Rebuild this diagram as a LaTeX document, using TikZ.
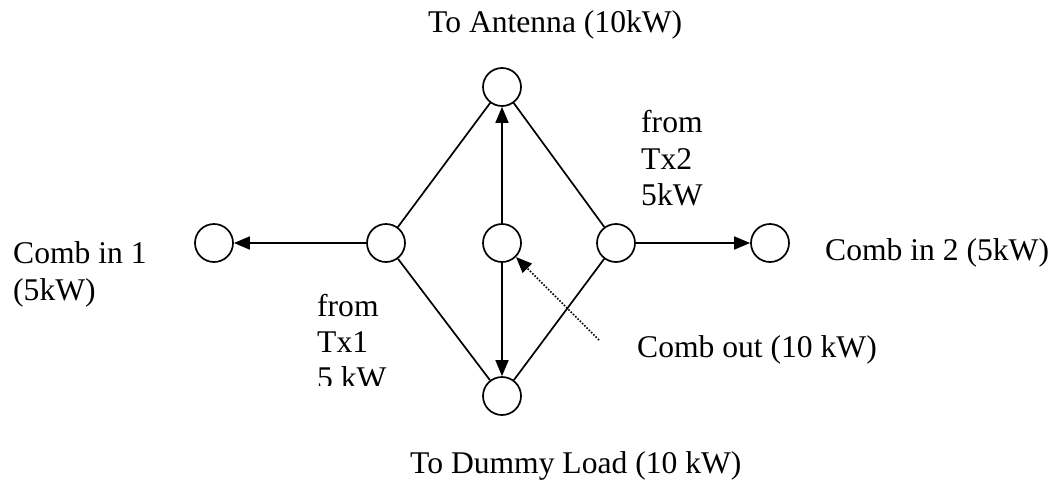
\documentclass[tikz,border=0pt]{standalone}
\usepackage{fontspec}
\setmainfont{Liberation Serif}
\usetikzlibrary{arrows.meta}
\tikzset{
  port/.style={circle,draw,line width=1.7pt,minimum size=38pt,inner sep=0pt},
  wire/.style={line width=1.7pt},
  arr/.style={wire,-{Triangle[length=16pt,width=13pt]}},
  darr/.style={line width=1.6pt,dash pattern=on 1.6pt off 1.6pt,-{Triangle[length=16pt,width=13pt]}},
  lbl/.style={anchor=base west,inner sep=0pt,font=\fontsize{31.6}{36}\selectfont}
}
\begin{document}
\begin{tikzpicture}[x=1pt,y=-1pt]
\useasboundingbox (0,0) rectangle (1057,482);
% ports
\node[port] (c1) at (214,243) {};
\node[port] (L) at (386,243) {};
\node[port] (T) at (502,87) {};
\node[port] (M) at (502,243) {};
\node[port] (B) at (502,396) {};
\node[port] (R) at (616,243) {};
\node[port] (c2) at (770,243) {};
% diamond
\draw[wire] (L) -- (T);
\draw[wire] (T) -- (R);
\draw[wire] (L) -- (B);
\draw[wire] (B) -- (R);
% arrows
\draw[arr] (L) -- (c1);
\draw[arr] (R) -- (c2);
\draw[arr] (M) -- (T);
\draw[arr] (M) -- (B);
\coordinate (ds) at (599,340);
\draw[darr] (ds) -- (M);
% labels
\node[lbl] (ant) at (428,32) {To Antenna (10kW)};
\node[lbl] (tx2a) at (641,132) {from};
\node[lbl] (tx2b) at (641,169) {Tx2};
\node[lbl] (tx2c) at (641,205) {5kW};
\node[lbl] (ci1a) at (13,263) {Comb in 1};
\node[lbl] (ci1b) at (13,300) {(5kW)};
\node[lbl] (ci2) at (825,260) {Comb in 2 (5kW)};
\node[lbl] (tx1a) at (317,316) {from};
\node[lbl] (tx1b) at (317,352) {Tx1};
\begin{scope}
\clip (300,360) rectangle (460,385);
\node[lbl] (tx1c) at (317,388) {5 kW};
\end{scope}
\node[lbl] (cout) at (637,357) {Comb out (10 kW)};
\node[lbl] (dummy) at (410,473) {To Dummy Load (10 kW)};
\end{tikzpicture}
\end{document}
